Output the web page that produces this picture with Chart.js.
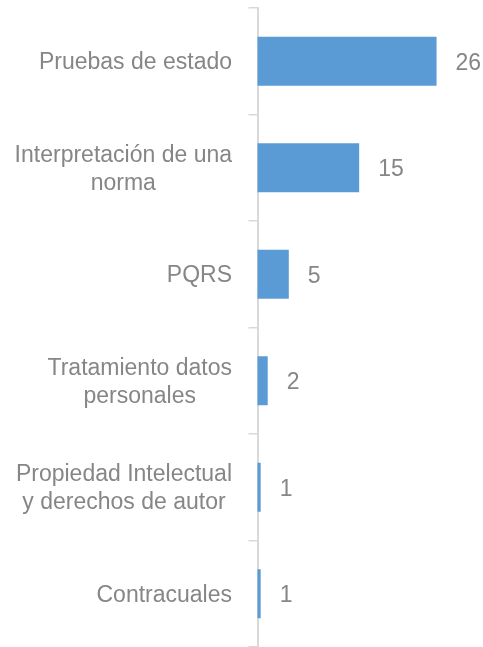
<!DOCTYPE html>
<html>
<head>
<meta charset="utf-8">
<script src="https://cdn.jsdelivr.net/npm/chart.js@4/dist/chart.umd.min.js"></script>
<style>
  html, body { margin: 0; padding: 0; background: #fff; }
  #wrap { width: 483px; height: 647px; }
</style>
</head>
<body>
<div id="wrap"><canvas id="temasChart" width="483" height="647"></canvas></div>
<script>
// Data
var categories = [
    ['Pruebas de estado'],
    ['Interpretación de una', 'norma'],
    ['PQRS'],
    ['Tratamiento datos', 'personales'],
    ['Propiedad Intelectual', 'y derechos de autor'],
    ['Contracuales']
];
var counts = [26, 15, 5, 2, 1, 1];

var textColor = '#868686';
var labelFont = '23px "Liberation Sans", Arial, sans-serif';

// Draws the category labels (centered lines, right aligned block) and the value labels
var labelPlugin = {
    id: 'labelPlugin',
    afterDatasetsDraw: function(chart) {
        var ctx = chart.ctx;
        var yScale = chart.scales.y;
        var meta = chart.getDatasetMeta(0);
        var lineHeight = 28;
        ctx.save();
        ctx.font = labelFont;
        ctx.fillStyle = textColor;
        ctx.textBaseline = 'middle';

        categories.forEach(function(lines, i) {
            var cy = yScale.getPixelForValue(i) + 1.5;
            var blockRight = 232;
            var maxW = 0;
            lines.forEach(function(l) { maxW = Math.max(maxW, ctx.measureText(l).width); });
            var center = blockRight - maxW / 2;
            var startY = cy - (lines.length - 1) * lineHeight / 2;
            ctx.textAlign = 'center';
            lines.forEach(function(l, j) {
                ctx.fillText(l, center, startY + j * lineHeight);
            });

            var bar = meta.data[i];
            ctx.textAlign = 'left';
            ctx.fillText(String(counts[i]), bar.x + 19, bar.y + 2);
        });
        ctx.restore();
    }
};

document.addEventListener('DOMContentLoaded', function() {
    var ctx = document.getElementById('temasChart').getContext('2d');
    var temasChart = new Chart(ctx, {
        type: 'bar',
        data: {
            labels: categories,
            datasets: [{
                data: counts,
                backgroundColor: '#5b9bd5',
                borderWidth: 0,
                barPercentage: 0.46,
                categoryPercentage: 1.0
            }]
        },
        options: {
            indexAxis: 'y',
            responsive: false,
            animation: false,
            layout: {
                padding: { top: 8, right: 0, bottom: 0, left: 0 }
            },
            plugins: {
                legend: { display: false },
                tooltip: { enabled: false },
                title: { display: false }
            },
            scales: {
                x: {
                    display: false,
                    min: 0.55,
                    max: 32.6
                },
                y: {
                    offset: true,
                    afterFit: function(scale) { scale.width = 257.5; },
                    ticks: { display: false },
                    grid: {
                        offset: true,
                        drawOnChartArea: false,
                        drawTicks: true,
                        tickLength: 9,
                        color: '#d9d9d9',
                        lineWidth: 1.5
                    },
                    border: {
                        display: true,
                        color: '#d9d9d9',
                        width: 2
                    }
                }
            }
        },
        plugins: [labelPlugin]
    });
});
</script>
</body>
</html>
